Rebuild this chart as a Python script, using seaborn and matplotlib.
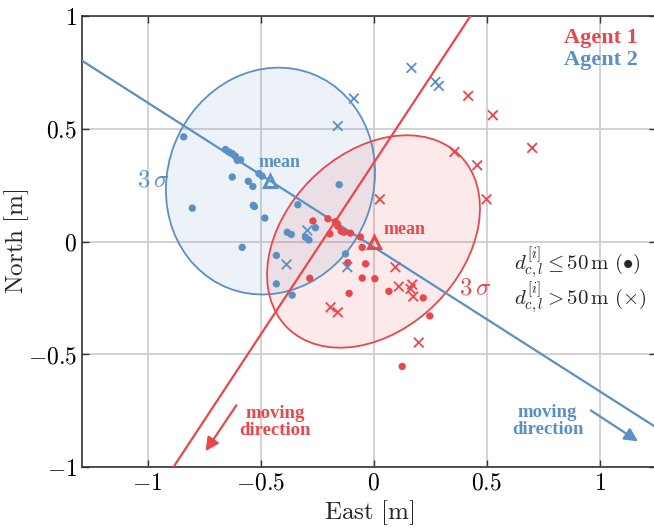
import numpy as np
import pandas as pd
import matplotlib
matplotlib.use('Agg')
import matplotlib.pyplot as plt
from matplotlib.patches import Ellipse
import seaborn as sns

# colours of the two agents
RED = '#E8474C'
BLUE = '#5A90C3'

# agent 1 (red) samples, inside / outside 50 m
a1_dot_x = [-0.268, -0.202, -0.168, -0.160, -0.158, -0.143, -0.131, -0.193, -0.102, -0.058,
            -0.050, -0.114, -0.035, -0.050, 0.006, -0.282, -0.108, 0.068, 0.220, 0.249, 0.127]
a1_dot_y = [0.091, 0.101, 0.088, 0.078, 0.068, 0.046, 0.041, 0.034, 0.037, 0.020,
            -0.026, -0.094, -0.099, -0.162, -0.165, -0.163, -0.230, -0.221, -0.250, -0.330, -0.554]
a1_cross_x = [0.419, 0.528, 0.702, 0.358, 0.459, 0.028, 0.500, 0.097, 0.112, 0.171,
              0.164, 0.176, -0.190, -0.158, 0.200]
a1_cross_y = [0.646, 0.560, 0.415, 0.397, 0.338, 0.187, 0.187, -0.114, -0.200, -0.191,
              -0.210, -0.244, -0.292, -0.314, -0.448]

# agent 2 (blue) samples
a2_dot_x = [-0.840, -0.655, -0.640, -0.625, -0.611, -0.603, -0.588, -0.625, -0.554, -0.534,
            -0.507, -0.493, -0.802, -0.532, -0.527, -0.481, -0.581, -0.382, -0.364, -0.430,
            -0.430, -0.335, -0.360, -0.257, -0.301, -0.286, -0.152, -0.124]
a2_dot_y = [0.464, 0.408, 0.397, 0.390, 0.378, 0.360, 0.362, 0.286, 0.267, 0.244,
            0.301, 0.290, 0.148, 0.160, 0.155, 0.104, -0.026, 0.041, 0.031, -0.062,
            -0.188, 0.163, -0.238, 0.061, 0.019, 0.007, 0.252, -0.055]
a2_cross_x = [0.168, 0.274, 0.289, -0.087, -0.158, -0.293, -0.385, -0.116]
a2_cross_y = [0.770, 0.708, 0.690, 0.634, 0.512, 0.049, -0.102, -0.114]

# means and 3 sigma ellipses (width, height, angle)
a1_mean = [0.0, 0.0]
a2_mean = [-0.456, 0.268]
a1_ell = [1.08, 0.78, 45]
a2_ell = [1.02, 0.91, 68.6]

# heading lines and moving direction arrows
a1_line = [(-0.885, -1.0), (0.429, 1.0)]
a2_slope = -0.64
a1_arrow = [(-0.60, -0.716), (-0.75, -0.94)]
a2_arrow = [(0.951, -0.742), (1.181, -0.893)]

ticks = [-1, -0.5, 0, 0.5, 1]
tick_labels = ['$-1$', '$-0.5$', '$0$', '$0.5$', '$1$']

sns.set_style('ticks')
plt.rcParams['mathtext.fontset'] = 'cm'
plt.rcParams['font.family'] = ['DejaVu Serif']

rows = []
for xs, ys, ag, mk in [(a1_dot_x, a1_dot_y, 'Agent 1', 'in'), (a1_cross_x, a1_cross_y, 'Agent 1', 'out'),
                       (a2_dot_x, a2_dot_y, 'Agent 2', 'in'), (a2_cross_x, a2_cross_y, 'Agent 2', 'out')]:
    for x, y in zip(xs, ys):
        rows.append({'East': x, 'North': y, 'agent': ag, 'dist': mk})
df = pd.DataFrame(rows)

fig = plt.figure(figsize=(6.54, 5.29), dpi=100)
ax = fig.add_axes([82 / 654, 62 / 529, 574 / 654, 451 / 529])
ax.set_xlim(-1.29, 1.25)
ax.set_ylim(-1, 1)

ax.grid(True, color='#cfcfcf', linewidth=1.3, zorder=0)
ax.set_axisbelow(True)

# ellipses
for m, e, c in [(a2_mean, a2_ell, BLUE), (a1_mean, a1_ell, RED)]:
    ax.add_patch(Ellipse(m, e[0], e[1], angle=e[2], facecolor=c, alpha=0.11, edgecolor='none', zorder=1))
    ax.add_patch(Ellipse(m, e[0], e[1], angle=e[2], facecolor='none', edgecolor=c, linewidth=1.3, zorder=2))

# heading lines
ax.axline(a1_line[0], a1_line[1], color=RED, linewidth=1.6, zorder=3)
ax.axline(tuple(a2_mean), slope=a2_slope, color=BLUE, linewidth=1.6, zorder=3)

pal = {'Agent 1': RED, 'Agent 2': BLUE}
sns.scatterplot(data=df[df.dist == 'in'], x='East', y='North', hue='agent', palette=pal,
                marker='o', s=28, linewidth=0, legend=False, ax=ax, zorder=4)
sns.scatterplot(data=df[df.dist == 'out'], x='East', y='North', hue='agent', palette=pal,
                marker='x', s=48, linewidth=1.3, legend=False, ax=ax, zorder=4)

# means
ax.plot(*a1_mean, marker='^', ms=9, mfc='none', mec=RED, mew=2.2, zorder=5)
ax.plot(*a2_mean, marker='^', ms=9, mfc='none', mec=BLUE, mew=2.2, zorder=5)

bold = dict(family='Liberation Serif', weight='bold')
ax.text(-0.509, 0.351, 'mean', color=BLUE, fontsize=13, va='center', ha='left', **bold)
ax.text(0.044, 0.053, 'mean', color=RED, fontsize=13, va='center', ha='left', **bold)
ax.text(-0.973, 0.271, r'$3\,\sigma$', color=BLUE, fontsize=18, va='center', ha='center')
ax.text(0.451, -0.204, r'$3\,\sigma$', color=RED, fontsize=18, va='center', ha='center')

ax.text(0.841, 0.902, 'Agent 1', color=RED, fontsize=16, va='center', ha='left', **bold)
ax.text(0.841, 0.804, 'Agent 2', color=BLUE, fontsize=16, va='center', ha='left', **bold)

ax.text(0.62, -0.100, r'$d_{c,l}^{[i]} \leq 50\,\mathrm{m}\ (\bullet)$', fontsize=15, va='center', ha='left')
ax.text(0.62, -0.255, r'$d_{c,l}^{[i]} > 50\,\mathrm{m}\ (\times)$', fontsize=15, va='center', ha='left')

# moving direction
ax.annotate('', xy=a1_arrow[1], xytext=a1_arrow[0],
            arrowprops=dict(arrowstyle='-|>,head_length=0.8,head_width=0.4', color=RED, lw=1.6))
ax.annotate('', xy=a2_arrow[1], xytext=a2_arrow[0],
            arrowprops=dict(arrowstyle='-|>,head_length=0.8,head_width=0.4', color=BLUE, lw=1.6))
ax.text(-0.434, -0.80, 'moving\ndirection', color=RED, fontsize=13.5, ha='center', va='center',
        linespacing=0.95, **bold)
ax.text(0.77, -0.796, 'moving\ndirection', color=BLUE, fontsize=13.5, ha='center', va='center',
        linespacing=0.95, **bold)

ax.set_xticks(ticks)
ax.set_xticklabels(tick_labels)
ax.set_yticks(ticks)
ax.set_yticklabels(tick_labels)
ax.tick_params(direction='in', length=5, width=1, top=True, right=True, labelsize=17, colors='#333333')
ax.tick_params(labelcolor='black')
for sp in ax.spines.values():
    sp.set_color('#333333')
    sp.set_linewidth(1.2)
    sp.set_visible(True)

ax.set_xlabel(r'$\mathrm{East\ [m]}$', fontsize=18)
ax.set_ylabel(r'$\mathrm{North\ [m]}$', fontsize=18)
ax.xaxis.set_label_coords(0.5, -0.07)
ax.yaxis.set_label_coords(-0.088, 0.5)

fig.savefig('out.png', dpi=100)
